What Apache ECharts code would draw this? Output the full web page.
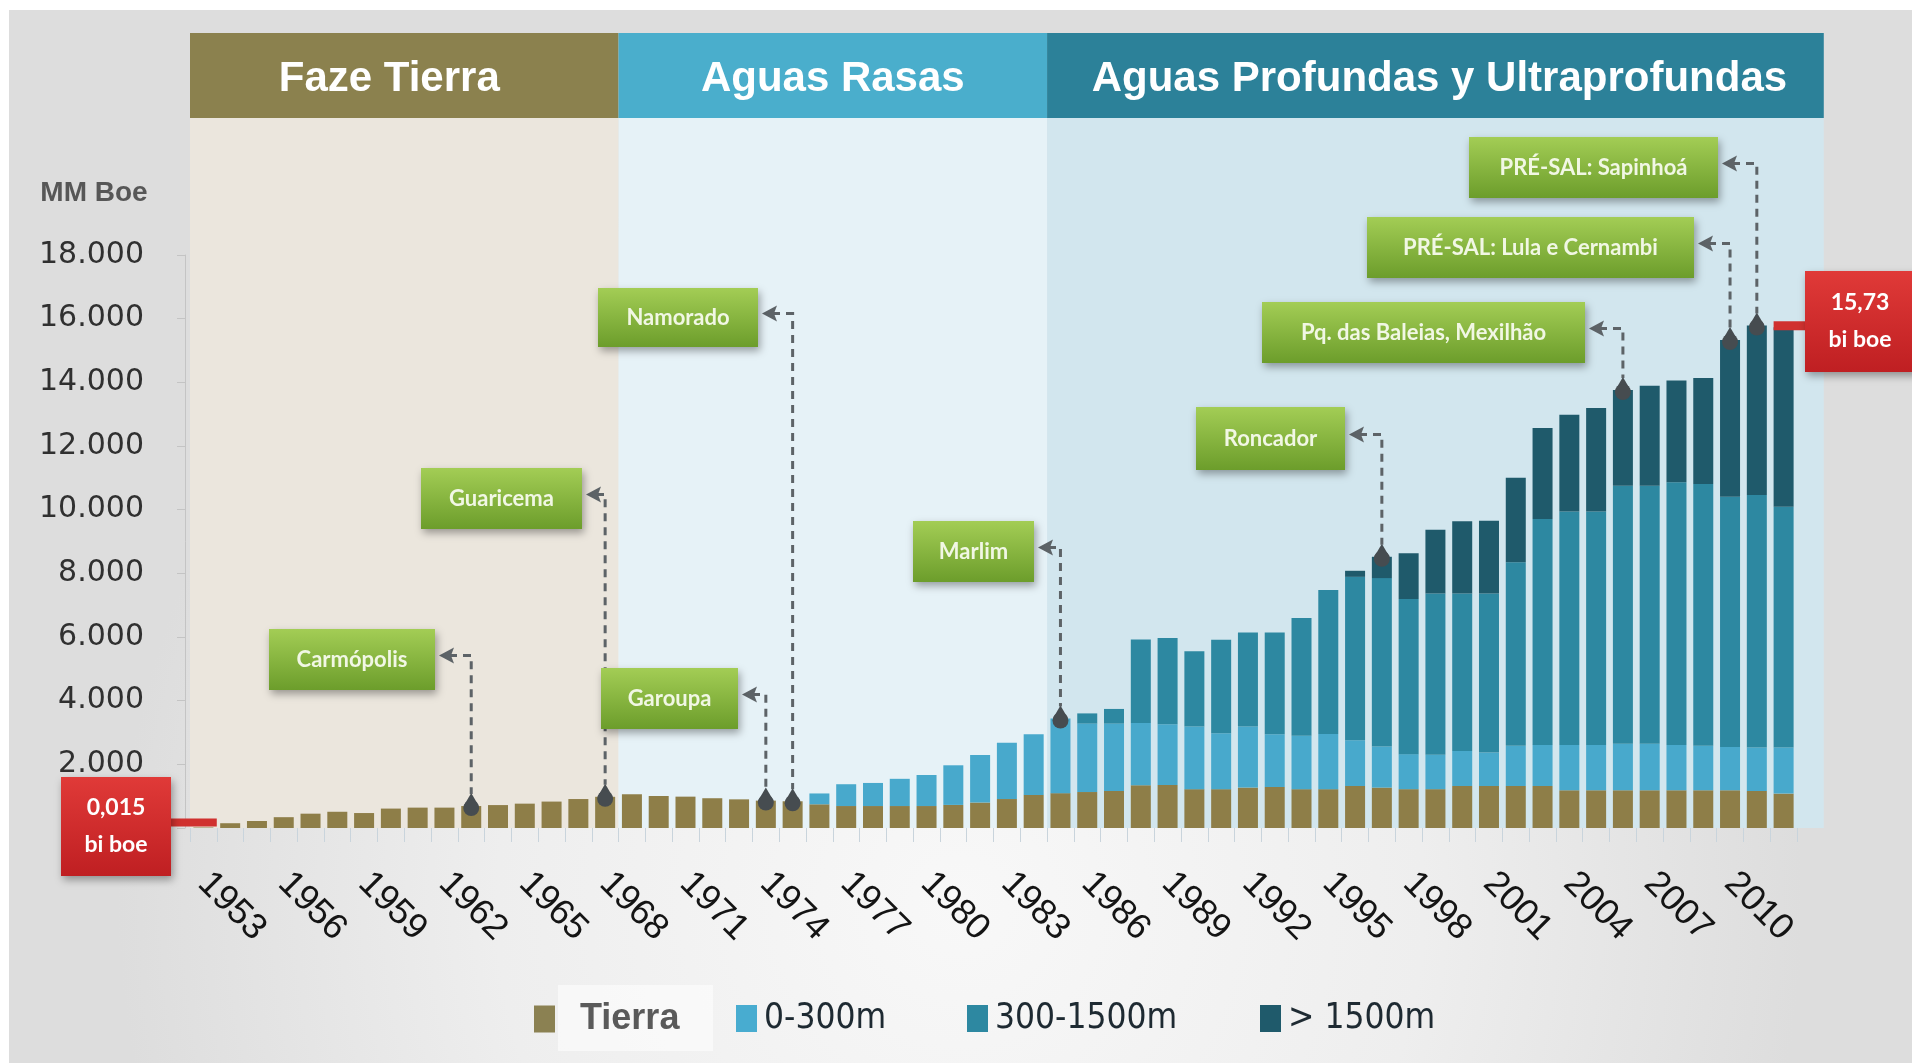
<!DOCTYPE html>
<html><head><meta charset="utf-8">
<script src="https://cdn.jsdelivr.net/npm/echarts@6/dist/echarts.min.js"></script>
<style>html,body{margin:0;padding:0;background:#fff}#c{width:1912px;height:1063px}</style>
</head><body><div id="c"></div>
<script>
// ---------------- DATA ----------------
const years = ['1953','1954','1955','1956','1957','1958','1959','1960','1961','1962',
  '1963','1964','1965','1966','1967','1968','1969','1970','1971','1972',
  '1973','1974','1975','1976','1977','1978','1979','1980','1981','1982',
  '1983','1984','1985','1986','1987','1988','1989','1990','1991','1992',
  '1993','1994','1995','1996','1997','1998','1999','2000','2001','2002',
  '2003','2004','2005','2006','2007','2008','2009','2010','2011','2012'];
const tierra = [15,150,220,340,450,510,470,610,640,640,
  690,720,765,830,910,980,1060,1005,985,935,
  900,860,840,745,690,690,690,690,725,800,
  910,1040,1095,1130,1165,1340,1350,1220,1220,1270,
  1290,1220,1220,1320,1270,1220,1220,1320,1320,1320,
  1320,1185,1185,1185,1185,1185,1185,1185,1165,1080];
const shallow = [0,0,0,0,0,0,0,0,0,0,
  0,0,0,0,0,0,0,0,0,0,
  0,0,0,340,685,725,855,975,1245,1495,
  1765,1905,2345,2150,2115,1960,1910,1970,1760,1920,
  1655,1675,1730,1435,1290,1100,1080,1100,1050,1260,
  1290,1425,1425,1465,1465,1425,1395,1360,1360,1445];
const deep = [0,0,0,0,0,0,0,0,0,0,
  0,0,0,0,0,0,0,0,0,0,
  0,0,0,0,0,0,0,0,0,0,
  0,0,0,320,460,2620,2705,2360,2935,2955,
  3195,3700,4525,5135,5290,4875,5070,4950,5000,5765,
  7095,7335,7335,8100,8100,8250,8230,7860,7935,7570];
const ultradeep = [0,0,0,0,0,0,0,0,0,0,
  0,0,0,0,0,0,0,0,0,0,
  0,0,0,0,0,0,0,0,0,0,
  0,0,0,0,0,0,0,0,0,0,
  0,0,0,190,670,1435,2000,2265,2285,2655,
  2860,3040,3250,3010,3145,3200,3325,4925,5325,5635];
const seriesNames = ['Tierra','0-300m','300-1500m','> 1500m'];
const yTicks = {min: 0, max: 18000, interval: 2000};
const phaseNames = ['Faze Tierra','Aguas Rasas','Aguas Profundas y Ultraprofundas'];
const phaseStart = ['1953','1969','1985'];
const phaseEnd = ['1968','1984','2012'];
const annNames = ['Carmópolis','Guaricema','Garoupa','Namorado','Marlim','Roncador',
  'Pq. das Baleias, Mexilhão','PRÉ-SAL: Lula e Cernambi','PRÉ-SAL: Sapinhoá'];
const annYears = ['1963','1968','1974','1975','1985','1997','2006','2010','2011'];
const calloutTexts = ['0,015\nbi boe','15,73\nbi boe'];
const axisTitle = 'MM Boe';

// ---------------- LAYOUT / STYLE ----------------
const colors = ['#8e7e48','#48a9cc','#2d88a1','#1f5a6b'];
const legendIconColors = ['#8b8152','#48acd0','#2d88a1','#1f5a6b'];
const panelColors = ['#ebe6dd','#e6f2f7','#d2e6ee'];
const headColors = ['#8b814e','#4aaecc','#2c8199'];
const headTextShift = [-15, 0, 4];
// annotation boxes [x, y, w, h] in page pixels
const annBoxes = [[269,629,166,61],[421,468,161,61],[601,668,137,61],[598,288,160,59],
  [913,521,121,61],[1196,407,149,63],[1262,302,323,61],[1367,217,327,61],[1469,137,249,61]];
const calloutBoxes = [[61,777,110,99],[1805,271,112,101]];

const chart = echarts.init(document.getElementById('c'), null, {renderer:'canvas'});
const fmt = v => v === 0 ? '' : String(v).replace(/\B(?=(\d{3})+(?!\d))/g, '.');
const dataSets = [tierra, shallow, deep, ultradeep];

const legendLefts = [529, 731, 962, 1255];
const legends = seriesNames.map((n, i) => ({
  data: [{name: n, itemStyle: {color: legendIconColors[i]}}],
  left: legendLefts[i], top: 996, icon: 'rect', itemWidth: 21, itemHeight: 27,
  selectedMode: false,
  textStyle: i === 0
    ? {fontFamily: 'Liberation Sans', fontWeight: 'bold', fontSize: 36, color: '#5a5a5a', padding: [0,0,0,20]}
    : {fontFamily: '"Liberation Sans Narrow","DejaVu Sans Condensed",sans-serif', fontSize: 35, color: '#1e2a32', padding: [0,0,0,2]}
}));

chart.setOption({
  animation: false,
  grid: {left: 190, right: 115, top: 255, bottom: 235},
  legend: legends,
  xAxis: {
    type: 'category', data: years,
    axisLine: {show: false},
    axisTick: {show: true, interval: 0, length: 14, lineStyle: {color: '#c9d4dc', width: 1}},
    axisLabel: {interval: 2, rotate: -45, margin: 50, fontFamily: 'Liberation Sans', fontSize: 36, color: '#141414'}
  },
  yAxis: {
    type: 'value', min: yTicks.min, max: yTicks.max, interval: yTicks.interval, offset: 5,
    axisLine: {show: true, lineStyle: {color: '#c4c4c4', width: 1}},
    axisTick: {show: true, length: 8, lineStyle: {color: '#c4c4c4'}},
    splitLine: {show: false},
    axisLabel: {formatter: fmt, margin: 41, fontFamily: 'DejaVu Sans', fontSize: 30, color: '#303030'}
  },
  series: seriesNames.map((n, i) => ({
    name: n, type: 'bar', stack: 'r', data: dataSets[i], barWidth: 20,
    itemStyle: {color: colors[i]}, z: 2
  }))
});

function buildGraphics() {
  const g = [];
  const xc = y => chart.convertToPixel({xAxisIndex: 0}, y);
  const yc = v => chart.convertToPixel({yAxisIndex: 0}, v);
  const band = xc(years[1]) - xc(years[0]);
  const totals = years.map((_, i) => tierra[i] + shallow[i] + deep[i] + ultradeep[i]);
  const yTop = 33, yHead = 118, yBase = yc(0);
  // page background
  g.push({type: 'rect', z: -30, silent: true, shape: {x: 0, y: 0, width: 1912, height: 1063}, style: {fill: '#ffffff'}});
  g.push({type: 'rect', z: -29, silent: true, shape: {x: 9, y: 10, width: 1903, height: 1053},
    style: {fill: {type: 'radial', x: 0.5, y: 0.85, r: 0.8, colorStops: [{offset: 0, color: '#f8f8f8'}, {offset: 0.55, color: '#eeeeee'}, {offset: 1, color: '#dddddd'}]}}});
  // phases
  phaseNames.forEach((name, k) => {
    const x0 = xc(phaseStart[k]) - band / 2;
    const x1 = xc(phaseEnd[k]) + band / 2 + (k === phaseNames.length - 1 ? band : 0);
    g.push({type: 'rect', z: -10, silent: true, shape: {x: x0, y: yHead, width: x1 - x0, height: yBase - yHead}, style: {fill: panelColors[k]}});
    g.push({type: 'rect', z: -9, silent: true, shape: {x: x0, y: yTop, width: x1 - x0, height: yHead - yTop}, style: {fill: headColors[k]}});
    g.push({type: 'text', z: -8, silent: true, x: (x0 + x1) / 2 + headTextShift[k], y: (yTop + yHead) / 2 + 4,
      style: {text: name, fill: '#ffffff', fontFamily: 'Liberation Sans', fontWeight: 'bold', fontSize: 42, align: 'center', verticalAlign: 'middle'}});
  });
  // axis title
  g.push({type: 'text', z: 5, x: 94, y: 193, style: {text: axisTitle, fill: '#575757', fontFamily: 'Liberation Sans', fontWeight: 'bold', fontSize: 28, align: 'center', verticalAlign: 'middle'}});
  // legend highlight box
  g.push({type: 'rect', z: -5, silent: true, shape: {x: 558, y: 985, width: 155, height: 66}, style: {fill: 'rgba(255,255,255,0.55)'}});
  // annotations
  annNames.forEach((name, k) => {
    const [bx0, by0, bw, bh] = annBoxes[k];
    const i = years.indexOf(annYears[k]);
    const cx = xc(years[i]);
    const top = yc(totals[i]);
    const ay = by0 + bh / 2 - 4;
    const ax = bx0 + bw + 4;
    g.push({type: 'rect', z: 50, shape: {x: bx0, y: by0, width: bw, height: bh},
      style: {fill: {type: 'linear', x: 0, y: 0, x2: 0, y2: 1, colorStops: [{offset: 0, color: '#a3cd55'}, {offset: 1, color: '#6c9d2b'}]},
        shadowBlur: 8, shadowColor: 'rgba(0,0,0,0.35)', shadowOffsetX: 2, shadowOffsetY: 4}});
    g.push({type: 'text', z: 51, x: bx0 + bw / 2, y: by0 + bh / 2,
      style: {text: name, fill: '#f1f7e4', fontFamily: 'Lato', fontWeight: 'bold', fontSize: 22, align: 'center', verticalAlign: 'middle'}});
    g.push({type: 'polyline', z: 49, shape: {points: [[ax + 10, ay], [cx, ay], [cx, top - 12]]},
      style: {stroke: '#5d6367', lineWidth: 3, lineDash: [8, 6], fill: null}});
    g.push({type: 'polygon', z: 49, shape: {points: [[ax, ay], [ax + 15, ay - 8], [ax + 12, ay], [ax + 15, ay + 8]]}, style: {fill: '#5d6367'}});
    g.push({type: 'polygon', z: 48, shape: {points: [[cx - 7, top - 1], [cx + 7, top - 1], [cx, top - 13]]}, style: {fill: '#464c50'}});
    g.push({type: 'circle', z: 48, shape: {cx: cx, cy: top + 2, r: 8}, style: {fill: '#464c50'}});
  });
  // red callouts
  const redFill = {type: 'linear', x: 0, y: 0, x2: 0, y2: 1, colorStops: [{offset: 0, color: '#e03a38'}, {offset: 1, color: '#bf1f22'}]};
  const first = 0, last = years.length - 1;
  const y0 = yc(totals[first]) - 5;
  g.push({type: 'rect', z: 40, shape: {x: calloutBoxes[0][0] + calloutBoxes[0][2], y: y0 - 4, width: xc(years[first]) + band / 2 - (calloutBoxes[0][0] + calloutBoxes[0][2]), height: 8}, style: {fill: '#d0312f'}});
  const y1 = yc(totals[last]) - 2;
  g.push({type: 'rect', z: 40, shape: {x: xc(years[last]) - 10, y: y1 - 4, width: calloutBoxes[1][0] - (xc(years[last]) - 10), height: 9}, style: {fill: '#d0312f'}});
  calloutBoxes.forEach((b, k) => {
    g.push({type: 'rect', z: 41, shape: {x: b[0], y: b[1], width: b[2], height: b[3]},
      style: {fill: redFill, shadowBlur: 8, shadowColor: 'rgba(0,0,0,0.35)', shadowOffsetX: 2, shadowOffsetY: 4}});
    g.push({type: 'text', z: 42, x: b[0] + Math.min(b[2], 110) / 2, y: b[1] + b[3] / 2,
      style: {text: calloutTexts[k], fill: '#ffffff', fontFamily: 'Lato', fontWeight: 'bold', fontSize: 23, lineHeight: 37, align: 'center', verticalAlign: 'middle'}});
  });
  chart.setOption({graphic: {elements: g}});
}
buildGraphics();
</script>
</body></html>
